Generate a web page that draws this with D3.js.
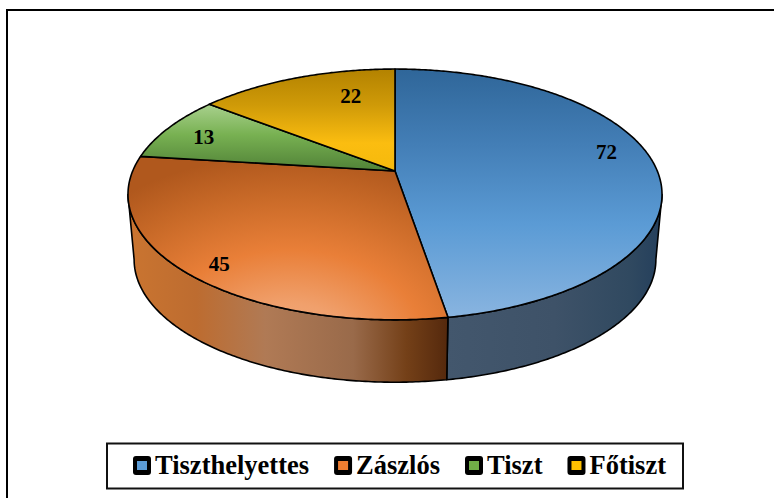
<!DOCTYPE html>
<html><head><meta charset="utf-8">
<script src="https://cdn.jsdelivr.net/npm/d3@7"></script>
<style>html,body{margin:0;padding:0;background:#fff}svg{display:block}</style>
</head><body><div id="c"></div>
<script>
const categories = ["Tiszthelyettes","Zászlós","Tiszt","Főtiszt"];
const values = [72,45,13,22];
const swatchColors = ["#5b9bd5","#ed7d31","#70ad47","#ffc000"];

const W=774,H=498;
const FONT='"Liberation Serif","Times New Roman",serif';
const svg=d3.select("#c").append("svg").attr("width",W).attr("height",H).attr("viewBox",[0,0,W,H]);
const defs=svg.append("defs");

// Perspective view of the pie disc
const cx=395,cy=171,A=262.3,B=121,k=0.187;
const depth=65.8,shrink=0.977;
function project(theta,r=1,level=0){
  const d=1+k*r*Math.cos(theta);
  const s=level?shrink:1;
  return [cx+s*A*r*Math.sin(theta)/d, cy+(level?depth:0)-s*B*r*Math.cos(theta)/d];
}
const pts=(a0,a1,level=0)=>d3.range(0,Math.max(2,Math.ceil((a1-a0)/0.01))+1)
  .map((i,_,arr)=>project(a0+(a1-a0)*i/(arr.length-1),1,level));
const line=d3.line();

const pie=d3.pie().sort(null).value(d=>d)(values);

// Gradients
function linear(id,x1,y1,x2,y2,stops){
  const g=defs.append("linearGradient").attr("id",id).attr("gradientUnits","userSpaceOnUse")
    .attr("x1",x1).attr("y1",y1).attr("x2",x2).attr("y2",y2);
  stops.forEach(([o,c])=>g.append("stop").attr("offset",o).attr("stop-color",c));
}
linear("top0",0,69,0,320,[[0,"#2f6699"],[0.3,"#437eb6"],[0.62,"#5b9bd5"],[1,"#8ab5e0"]]);
const rad=defs.append("radialGradient").attr("id","top1").attr("gradientUnits","userSpaceOnUse")
  .attr("cx",0).attr("cy",0).attr("r",1)
  .attr("gradientTransform","translate(290,345) scale(270,190)");
[[0,"#f3ad80"],[0.22,"#f0a06c"],[0.5,"#e97f38"],[0.78,"#c96a28"],[1,"#b0581d"]]
  .forEach(([o,c])=>rad.append("stop").attr("offset",o).attr("stop-color",c));
linear("top2",0,104,0,172,[[0,"#a9d18e"],[0.45,"#78b152"],[1,"#4f8036"]]);
linear("top3",0,69,0,172,[[0,"#b38200"],[0.35,"#cf9a08"],[0.72,"#fbbd10"],[1,"#f5b90c"]]);
linear("wall0",447,0,662,0,[[0,"#43576d"],[0.5,"#3e5268"],[0.85,"#304960"],[1,"#243f5c"]]);
linear("wall1",134,0,447,0,[[0,"#c97430"],[0.2,"#bd6c30"],[0.42,"#b07a55"],[0.7,"#996a4a"],[0.87,"#744018"],[1,"#55290d"]]);

// Frame
const frame=svg.append("g").attr("stroke","#000").attr("stroke-width",2).attr("fill","none");
frame.append("line").attr("x1",6).attr("x2",W).attr("y1",10).attr("y2",10);
frame.append("line").attr("x1",7).attr("x2",7).attr("y1",9).attr("y2",H);

// Visible side wall, between the left and right silhouette points
const silR=Math.PI-Math.acos(k), silL=Math.PI+Math.acos(k);
const chart=svg.append("g").attr("stroke","#000").attr("stroke-width",1.6).attr("stroke-linejoin","round");
chart.selectAll("path.wall").data(pie).join("path").attr("class","wall")
  .filter(d=>d.endAngle>silR && d.startAngle<silL)
  .attr("fill",d=>`url(#wall${d.index})`)
  .attr("d",d=>{
    const a0=Math.max(d.startAngle,silR),a1=Math.min(d.endAngle,silL);
    return line(pts(a0,a1,0).concat(pts(a0,a1,1).reverse()))+"Z";
  });

// Top face
chart.selectAll("path.top").data(pie).join("path").attr("class","top")
  .attr("fill",d=>`url(#top${d.index})`)
  .attr("d",d=>line([[cx,cy]].concat(pts(d.startAngle,d.endAngle,0)))+"Z");

// Value labels
const labelR=0.8;
const labelNudge=[[5,-11],[-13,15],[-8,1],[37,2]];
svg.selectAll("text.val").data(pie).join("text").attr("class","val")
  .attr("transform",d=>{
    const p=project((d.startAngle+d.endAngle)/2,labelR);
    const n=labelNudge[d.index];
    return `translate(${p[0]+n[0]},${p[1]+n[1]+7})`;
  })
  .attr("text-anchor","middle")
  .attr("font-family",FONT).attr("font-weight","bold").attr("font-size",21).attr("fill","#000")
  .text(d=>d.value);

// Legend
svg.append("rect").attr("x",107).attr("y",443.5).attr("width",576).attr("height",45)
  .attr("fill","#fff").attr("stroke","#111").attr("stroke-width",2);
let lx=133;
categories.forEach((c,i)=>{
  const g=svg.append("g").attr("transform",`translate(${lx},0)`);
  g.append("rect").attr("x",0).attr("y",456).attr("width",18).attr("height",19).attr("rx",3).attr("fill","#000");
  g.append("rect").attr("x",4).attr("y",461).attr("width",10).attr("height",9).attr("fill",swatchColors[i]);
  const t=g.append("text").attr("x",22).attr("y",474)
    .attr("font-family",FONT).attr("font-weight","bold").attr("font-size",26.5).attr("fill","#000").text(c);
  lx+=22+t.node().getComputedTextLength()+25;
});
</script></body></html>
